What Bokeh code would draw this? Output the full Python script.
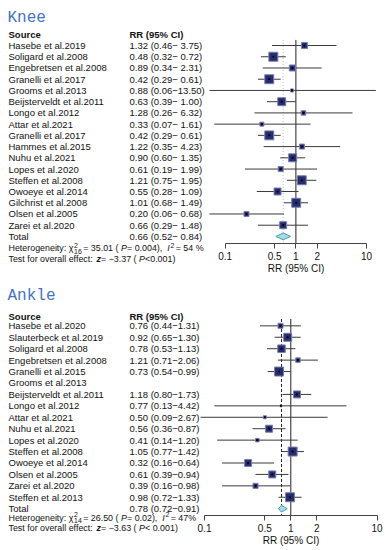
import math
from bokeh.plotting import figure
from bokeh.layouts import column
from bokeh.models import Range1d, FixedTicker, ColumnDataSource, LinearScale
from bokeh.core.properties import value
from bokeh.embed import file_html
from bokeh.resources import INLINE

# ---------------- data: Knee ----------------
knee_study = ["Hasebe et al.2019", "Soligard et al.2008", "Engebretsen et al.2008",
              "Granelli et al.2017", "Grooms et al.2013", "Beijsterveldt et al.2011",
              "Longo et al.2012", "Attar et al.2021", "Granelli et al.2017",
              "Hammes et al.2015", "Nuhu et al.2021", "Lopes et al.2020",
              "Steffen et al.2008", "Owoeye et al.2014", "Gilchrist et al.2008",
              "Olsen et al.2005", "Zarei et al.2020"]
knee_rr = [1.32, 0.48, 0.89, 0.42, 0.88, 0.63, 1.28, 0.33, 0.42, 1.22, 0.90, 0.61, 1.21, 0.55, 1.01, 0.20, 0.66]
knee_lo = [0.46, 0.32, 0.34, 0.29, 0.06, 0.39, 0.26, 0.07, 0.29, 0.35, 0.60, 0.19, 0.75, 0.28, 0.68, 0.06, 0.29]
knee_hi = [3.75, 0.72, 2.31, 0.61, 13.50, 1.00, 6.32, 1.61, 0.61, 4.23, 1.35, 1.99, 1.95, 1.09, 1.49, 0.68, 1.48]
knee_weight = [4.3, 9.6, 4.3, 9.6, 1.1, 7.6, 2.4, 1.9, 9.6, 3.0, 7.6, 3.0, 9.6, 5.8, 9.6, 3.0, 5.8]
knee_total = [0.66, 0.52, 0.84]
knee_chi2, knee_df, knee_p, knee_i2 = "35.01", "16", "0.004", "54 %"
knee_z, knee_pz = "−3.37", "<0.001"

# ---------------- data: Ankle ----------------
ankle_study = ["Hasebe et al.2020", "Slauterbeck et al.2019", "Soligard et al.2008",
               "Engebretsen et al.2008", "Granelli et al.2015", "Grooms et al.2013",
               "Beijsterveldt et al.2011", "Longo et al.2012", "Attar et al.2021",
               "Nuhu et al.2021", "Lopes et al.2020", "Steffen et al.2008",
               "Owoeye et al.2014", "Olsen et al.2005", "Zarei et al.2020", "Steffen et al.2013"]
ankle_rr = [0.76, 0.92, 0.78, 1.21, 0.73, None, 1.18, 0.77, 0.50, 0.56, 0.41, 1.05, 0.32, 0.61, 0.39, 0.98]
ankle_lo = [0.44, 0.65, 0.53, 0.71, 0.54, None, 0.80, 0.13, 0.09, 0.36, 0.14, 0.77, 0.16, 0.39, 0.16, 0.72]
ankle_hi = [1.31, 1.30, 1.13, 2.06, 0.99, None, 1.73, 4.42, 2.67, 0.87, 1.20, 1.42, 0.64, 0.94, 0.98, 1.33]
ankle_weight = [3.9, 9.8, 8.6, 3.1, 12.3, None, 7.5, 0.6, 1.4, 7.5, 1.9, 12.3, 7.5, 7.5, 3.9, 12.3]
ankle_total = [0.78, 0.72, 0.91]
ankle_chi2, ankle_df, ankle_p, ankle_i2 = "26.50", "14", "0.02", "47%"
ankle_z, ankle_pz = "−3.63", "< 0.001"

axis_ticks = [0.1, 0.5, 1, 2, 10]
axis_tick_labels = ["0.1", "0.5", "1", "2", "10"]

# ---------------- style ----------------
SANS = "Liberation Sans"
TITLE_FONT = "Liberation Mono"
TITLE_COLOR = "#4472C4"
TEXT_COLOR = "#111111"
BOX_FILL = "#262c6e"
BOX_LINE = "#7a7fb3"
CI_COLOR = "#3a3a3a"
DIA_FILL = "#a9d9e3"
DIA_LINE = "#4a9cb2"
W = 385

AW = {' ': 278, '(': 333, ')': 333, ',': 278, '.': 278, ':': 278, '<': 584, '=': 584,
      '%': 889, '−': 584, '-': 333, 'H': 722, 'I': 278, 'P': 667, 'T': 611,
      'a': 556, 'c': 500, 'e': 556, 'f': 278, 'g': 556, 'h': 556, 'i': 222, 'l': 222,
      'n': 556, 'o': 556, 'r': 333, 's': 500, 't': 278, 'v': 500, 'y': 500, 'z': 500, 'χ': 520}


def tw(s, size):
    return sum(AW.get(c, 556) for c in s) * size / 1000.0


def stat_pieces(parts, x0, y, size, pitch):
    recs = []
    x = x0
    for part in parts:
        if part[0] == "t":
            _, s, st = part
            recs.append((x, y, s, st, size))
            x += tw(s, size)
        else:
            _, sup, sub = part
            small = size * 0.78
            if sup:
                recs.append((x + 0.6, y - 3.2 / pitch, sup, "normal", small))
            if sub:
                recs.append((x + 0.6, y + 2.9 / pitch, sub, "normal", small))
            x += max(tw(sup, small), tw(sub, small)) + 2.0
    return recs


def fmt_rr(r, lo, hi, pad):
    if r is None:
        return ""
    if pad:
        return f"{r:.2f} ({lo:.2f}−{hi:5.2f})"
    return f"{r:.2f} ({lo:.2f}−{hi:.2f})"


def panel(title, study, rr, lo, hi, weight, total, chi2, df, pval, i2, z, pz, g):
    n = len(study)
    rows = list(range(1, n + 1))
    pitch = g["pitch"]
    H = g["height"]
    y0 = g["row0"]          # pixel offset of row 0 from the panel top
    d = g["decade"]
    l0 = -1 - g["x01"] / d
    l1 = l0 + W / d
    r_axis = (g["axis_px"] - y0) / pitch

    p = figure(width=W, height=H, output_backend="svg", title=None,
               toolbar_location=None, x_axis_type="log",
               x_range=Range1d(10 ** l0, 10 ** l1),
               y_range=Range1d((H - y0) / pitch, -y0 / pitch),
               y_axis_location=None, x_axis_label="RR (95% CI)",
               min_border=0, outline_line_color=None)
    p.min_border_left = p.min_border_right = p.min_border_top = p.min_border_bottom = 0
    p.xgrid.visible = False
    p.ygrid.visible = False
    p.extra_x_ranges = {"px": Range1d(0, W)}
    p.extra_x_scales = {"px": LinearScale()}

    # ---- axis (log scale, drawn at the bottom of the study rows) ----
    ax = p.xaxis[0]
    ax.fixed_location = r_axis
    ax.ticker = FixedTicker(ticks=axis_ticks)
    ax.major_label_overrides = {t: s for t, s in zip(axis_ticks, axis_tick_labels)}
    ax.bounds = (axis_ticks[0], axis_ticks[-1])
    ax.minor_tick_line_color = None
    ax.major_tick_in = 0
    ax.major_tick_out = 5
    ax.major_label_standoff = 3
    ax.axis_label_standoff = 0
    ax.axis_line_color = "#444444"
    ax.major_tick_line_color = "#444444"
    ax.major_label_text_font = SANS
    ax.major_label_text_font_size = "10px"
    ax.major_label_text_color = TEXT_COLOR
    ax.axis_label_text_font = SANS
    ax.axis_label_text_font_size = "10px"
    ax.axis_label_text_font_style = "normal"
    ax.axis_label_text_color = TEXT_COLOR

    # ---- texts ----
    tx = g["text_x"]
    p.text(x=[tx - 1], y=[g["title_r"]], text=[title], x_range_name="px",
           text_font=value(TITLE_FONT), text_font_size=g["title_size"],
           text_color=TITLE_COLOR, text_baseline="alphabetic")
    p.text(x=[tx, g["rr_x"]], y=[g["header_r"]] * 2, text=["Source", "RR (95% CI)"],
           x_range_name="px", text_font=value(SANS), text_font_size=g["fs"],
           text_font_style="bold", text_color=TEXT_COLOR, text_baseline="middle")
    rr_txt = [fmt_rr(a, b, c, g["pad"]) for a, b, c in zip(rr, lo, hi)]
    src = ColumnDataSource(dict(y=rows + [g["total_r"]],
                                name=study + ["Total"],
                                rr=rr_txt + [fmt_rr(total[0], total[1], total[2], g["pad"])]))
    p.text(x=tx, y="y", text="name", source=src, x_range_name="px",
           text_font=value(SANS), text_font_size=g["fs"], text_color=TEXT_COLOR,
           text_baseline="middle")
    p.text(x=g["rr_x"], y="y", text="rr", source=src, x_range_name="px",
           text_font=value(SANS), text_font_size=g["fs"], text_color=TEXT_COLOR,
           text_baseline="middle")
    ss = g["stat_size"]
    het_parts = [("t", "Heterogeneity: χ", "normal"), ("ss", "2", df),
                 ("t", f" = {chi2} (", "normal"), ("t", "P", "italic"),
                 ("t", f" = {pval}), ", "normal"), ("t", "I", "italic"), ("ss", "2", ""),
                 ("t", f" = {i2}", "normal")]
    test_parts = [("t", "Test for overall effect: ", "normal"), ("t", "z", "bold italic"),
                  ("t", f" = {z} (", "normal"), ("t", "P", "italic"),
                  ("t", f" {pz})", "normal")]
    recs = stat_pieces(het_parts, tx, g["het_r"], ss, pitch) + \
        stat_pieces(test_parts, tx, g["test_r"], ss, pitch)
    ssrc = ColumnDataSource(dict(x=[r[0] for r in recs], y=[r[1] for r in recs],
                                 t=[r[2] for r in recs], st=[r[3] for r in recs],
                                 fs=[f"{r[4]:.1f}px" for r in recs]))
    p.text(x="x", y="y", text="t", source=ssrc, x_range_name="px",
           text_font=value(SANS), text_font_style="st", text_font_size="fs",
           text_color=TEXT_COLOR, text_baseline="middle")

    # ---- forest marks ----
    p.segment(x0=[total[0]], x1=[total[0]], y0=[g["vtop"]], y1=[r_axis],
              line_color=g["ref_color"], line_dash=g["ref_dash"], line_width=1)
    p.segment(x0=[1], x1=[1], y0=[g["vtop"]], y1=[r_axis], line_color="#222222",
              line_width=1)
    keep = [i for i in range(n) if rr[i] is not None]
    fsrc = ColumnDataSource(dict(
        y=[rows[i] for i in keep], rr=[rr[i] for i in keep], lo=[lo[i] for i in keep],
        hi=[hi[i] for i in keep],
        side=[g["box_k"] * math.sqrt(weight[i]) for i in keep]))
    p.segment(x0="lo", x1="hi", y0="y", y1="y", source=fsrc, line_color=CI_COLOR,
              line_width=1)
    p.scatter(x="rr", y="y", size="side", marker="square", source=fsrc,
              fill_color=BOX_FILL, line_color=BOX_LINE, line_width=1)
    p.scatter(x="rr", y="y", size=2.2, marker="circle", source=fsrc,
              fill_color="black", line_color=None)
    h = g["dia_h"]
    tr = g["total_r"]
    p.patch(x=[total[1], total[0], total[2], total[0]], y=[tr, tr - h, tr, tr + h],
            fill_color=DIA_FILL, line_color=DIA_LINE, line_width=1)
    return p


# panel geometry (pixels measured from each panel's top; rows in row units)
knee_g = dict(height=276, row0=33.8, pitch=11.23, axis_px=243,
              title_r=(17 - 33.8) / 11.23, text_x=8,
              header_r=0, total_r=18, het_r=19.05, test_r=20.05, vtop=0.5,
              rr_x=129, fs="9.5px", stat_size=8.9, title_size="16px", pad=True,
              decade=70.7, x01=224.7, box_k=2.9, dia_h=0.3,
              ref_color="#b8b8b8", ref_dash="1 2")

ankle_g = dict(height=274, row0=37.9, pitch=11.43, axis_px=239,
               title_r=(19 - 37.9) / 11.43, text_x=8,
               header_r=0.18, total_r=17, het_r=17.8, test_r=18.7, vtop=0.4,
               rr_x=129, fs="9.5px", stat_size=8.9, title_size="16px", pad=False,
               decade=86.3, x01=204, box_k=2.56, dia_h=0.3,
               ref_color="#222222", ref_dash="3 2")

knee = panel("Knee", knee_study, knee_rr, knee_lo, knee_hi, knee_weight, knee_total,
             knee_chi2, knee_df, knee_p, knee_i2, knee_z, knee_pz, knee_g)
ankle = panel("Ankle", ankle_study, ankle_rr, ankle_lo, ankle_hi, ankle_weight, ankle_total,
              ankle_chi2, ankle_df, ankle_p, ankle_i2, ankle_z, ankle_pz, ankle_g)

page = column(knee, ankle, spacing=0)
open("out.html", "w").write(file_html(page, INLINE))
